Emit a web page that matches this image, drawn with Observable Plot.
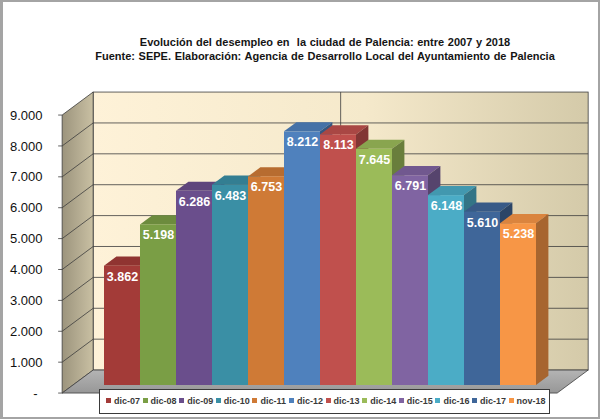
<!DOCTYPE html>
<html><head><meta charset="utf-8">
<script src="https://cdn.jsdelivr.net/npm/d3@7"></script>
<script src="https://cdn.jsdelivr.net/npm/@observablehq/plot@0.6"></script>
<style>
html,body{margin:0;padding:0;background:#fff;}
#wrap{position:relative;width:600px;height:419px;overflow:hidden;font-family:"Liberation Sans",Arial,sans-serif;}
#frame{position:absolute;left:0;top:0;width:600px;height:419px;box-sizing:border-box;border:2px solid #a4a4a4;border-left-width:3px;pointer-events:none;}
#title{position:absolute;left:0;width:650px;top:36px;text-align:center;font-size:11px;word-spacing:0.6px;font-weight:bold;line-height:13.5px;color:#151515;white-space:pre;}
#chart{position:absolute;left:0;top:0;}
#legend{position:absolute;left:99px;top:389px;width:451px;height:25px;box-sizing:border-box;border:1px solid #3a3a3a;background:#fff;}
.item{position:absolute;top:5px;font-size:9px;font-weight:bold;color:#3a3a3a;white-space:nowrap;line-height:12px;}
.sw{display:inline-block;width:5px;height:5px;margin-right:3px;vertical-align:1px;}
</style></head>
<body><div id="wrap"><div id="chart"></div><div id="title"></div><div id="legend"></div><div id="frame"></div></div>
<script>
const titleLines = [
  "Evolución del desempleo en  la ciudad de Palencia: entre 2007 y 2018",
  "Fuente: SEPE. Elaboración: Agencia de Desarrollo Local del Ayuntamiento de Palencia"
];
const categories = ["dic-07","dic-08","dic-09","dic-10","dic-11","dic-12","dic-13","dic-14","dic-15","dic-16","dic-17","nov-18"];
const values = [3862, 5198, 6286, 6483, 6753, 8212, 8113, 7645, 6791, 6148, 5610, 5238];
const colors = ["#A33B38","#7A9E45","#6A4E8C","#3A8FA5","#CF7A36","#4F81BD","#C0504D","#9BBB59","#8064A2","#4BACC6","#3F6699","#F79646"];
const yTicks = [0, 1000, 2000, 3000, 4000, 5000, 6000, 7000, 8000, 9000];
const yTickLabels = ["-", "1.000", "2.000", "3.000", "4.000", "5.000", "6.000", "7.000", "8.000", "9.000"];

const data = categories.map((c, i) => ({cat: c, value: values[i]}));
const fmt = d3.formatLocale({decimal: ",", thousands: ".", grouping: [3], currency: ["", "€"]}).format(",");
const ticks = yTicks.map((t, i) => ({t, label: yTickLabels[i]}));

// 3D depth geometry (pixel vector of the full depth, and plane fractions)
const DX = 31, DY = -23, FRONT = -0.35, BACK = 0.65, BARD = 0.4;

function walls(index, scales, values, dims) {
  const y = scales.y;
  const yMax = yTicks[yTicks.length - 1];
  const x0 = dims.marginLeft - 27, x1 = dims.width - dims.marginRight + 29;
  const fx = FRONT * DX, fy = FRONT * DY, bx = BACK * DX, by = BACK * DY;
  const g = d3.create("svg:g");
  const defs = g.append("defs");
  const gb = defs.append("linearGradient").attr("id", "gBack").attr("x1", 0).attr("x2", 1).attr("y1", 0).attr("y2", 0);
  gb.append("stop").attr("offset", 0).attr("stop-color", "#FEF2D8");
  gb.append("stop").attr("offset", 0.55).attr("stop-color", "#F5E9CB");
  gb.append("stop").attr("offset", 1).attr("stop-color", "#D4CAA9");
  const gl = defs.append("linearGradient").attr("id", "gLeft").attr("x1", 0).attr("x2", 1).attr("y1", 0).attr("y2", 0);
  gl.append("stop").attr("offset", 0).attr("stop-color", "#9C947D");
  gl.append("stop").attr("offset", 1).attr("stop-color", "#C9C0A3");
  const gf = defs.append("linearGradient").attr("id", "gFloor").attr("x1", 0).attr("x2", 0).attr("y1", 0).attr("y2", 1);
  gf.append("stop").attr("offset", 0).attr("stop-color", "#B4B4B4");
  gf.append("stop").attr("offset", 1).attr("stop-color", "#979797");
  const pts = a => a.map(p => p.join(",")).join(" ");
  const yT = y(yMax), y0 = y(0);
  // back wall
  g.append("rect").attr("x", x0 + bx).attr("y", yT + by).attr("width", x1 - x0).attr("height", y0 - yT)
    .attr("fill", "url(#gBack)").attr("stroke", "#3c3c3c").attr("stroke-width", 0.8);
  // left wall
  g.append("polygon").attr("points", pts([[x0 + fx, yT + fy], [x0 + bx, yT + by], [x0 + bx, y0 + by], [x0 + fx, y0 + fy]]))
    .attr("fill", "url(#gLeft)").attr("stroke", "#3c3c3c").attr("stroke-width", 0.8);
  // floor
  g.append("polygon").attr("points", pts([[x0 + fx, y0 + fy], [x1 + fx, y0 + fy], [x1 + bx, y0 + by], [x0 + bx, y0 + by]]))
    .attr("fill", "url(#gFloor)").attr("stroke", "#3c3c3c").attr("stroke-width", 0.8);
  // center divider of back wall
  const xm = (x0 + x1) / 2 + bx;
  g.append("line").attr("x1", xm).attr("x2", xm).attr("y1", yT + by).attr("y2", y0 + by).attr("stroke", "#3c3c3c").attr("stroke-width", 0.8);
  for (const t of yTicks) {
    const yy = y(t);
    if (t > 0 && t < yMax) {
      g.append("line").attr("x1", x0 + bx).attr("x2", x1 + bx).attr("y1", yy + by).attr("y2", yy + by)
        .attr("stroke", "#3c3c3c").attr("stroke-width", 0.8);
      g.append("line").attr("x1", x0 + fx).attr("x2", x0 + bx).attr("y1", yy + fy).attr("y2", yy + by)
        .attr("stroke", "#3c3c3c").attr("stroke-width", 0.8);
    }
    g.append("line").attr("x1", x0 + fx - 4).attr("x2", x0 + fx).attr("y1", yy + fy).attr("y2", yy + fy)
      .attr("stroke", "#3c3c3c").attr("stroke-width", 0.8);
  }
  return g.node();
}

function faces(index, scales, values, dims) {
  const sx = scales.x, sy = scales.y;
  let bw = typeof sx.bandwidth === "function" ? sx.bandwidth() : sx.bandwidth;
  if (!bw) bw = (dims.width - dims.marginLeft - dims.marginRight) / categories.length;
  const dx = BARD * DX, dy = BARD * DY;
  const g = d3.create("svg:g");
  const pts = a => a.map(p => p.join(",")).join(" ");
  data.forEach((d, i) => {
    const xl = sx(d.cat), xr = xl + bw, yt = sy(d.value), yb = sy(0);
    const c = scales.color ? scales.color(d.cat) : colors[i];
    g.append("polygon").attr("points", pts([[xl, yt], [xr, yt], [xr + dx, yt + dy], [xl + dx, yt + dy]]))
      .attr("fill", d3.color(c).darker(0.35).formatHex());
    g.append("polygon").attr("points", pts([[xr, yt], [xr + dx, yt + dy], [xr + dx, yb + dy], [xr, yb]]))
      .attr("fill", d3.color(c).darker(1.1).formatHex());
  });
  return g.node();
}

const chart = Plot.plot({
  width: 600,
  height: 419,
  marginLeft: 100,
  marginRight: 61,
  marginTop: 107,
  marginBottom: 34,
  x: {domain: categories, axis: null, paddingInner: 0, paddingOuter: 0},
  y: {domain: [0, 9000], axis: null},
  color: {domain: categories, range: colors},
  style: {fontFamily: "'Liberation Sans', Arial, sans-serif", background: "transparent", overflow: "visible"},
  marks: [
    walls,
    faces,
    Plot.barY(data, {x: "cat", y: "value", fill: "cat"}),
    Plot.text(data, {x: "cat", y: "value", text: d => fmt(d.value), dy: 10.5, fill: "white", fontWeight: "bold", fontSize: 12.5}),
    Plot.text(ticks.filter(d => d.t > 0), {y: "t", text: "label", frameAnchor: "left", textAnchor: "end", dx: -58, dy: FRONT * DY, fontSize: 13, fill: "#111"}),
    Plot.text(ticks.filter(d => d.t === 0), {y: "t", text: "label", frameAnchor: "left", textAnchor: "end", dx: -63, dy: FRONT * DY, fontSize: 13, fill: "#111"})
  ]
});
document.getElementById("chart").appendChild(chart);

document.getElementById("title").textContent = titleLines.join("\n");

const legend = document.getElementById("legend");
categories.forEach((c, i) => {
  const it = document.createElement("div");
  it.className = "item";
  it.style.left = (6 + i * 36.6) + "px";
  const sw = document.createElement("span");
  sw.className = "sw";
  sw.style.background = colors[i];
  it.appendChild(sw);
  it.appendChild(document.createTextNode(c));
  legend.appendChild(it);
});
</script>
</body></html>
